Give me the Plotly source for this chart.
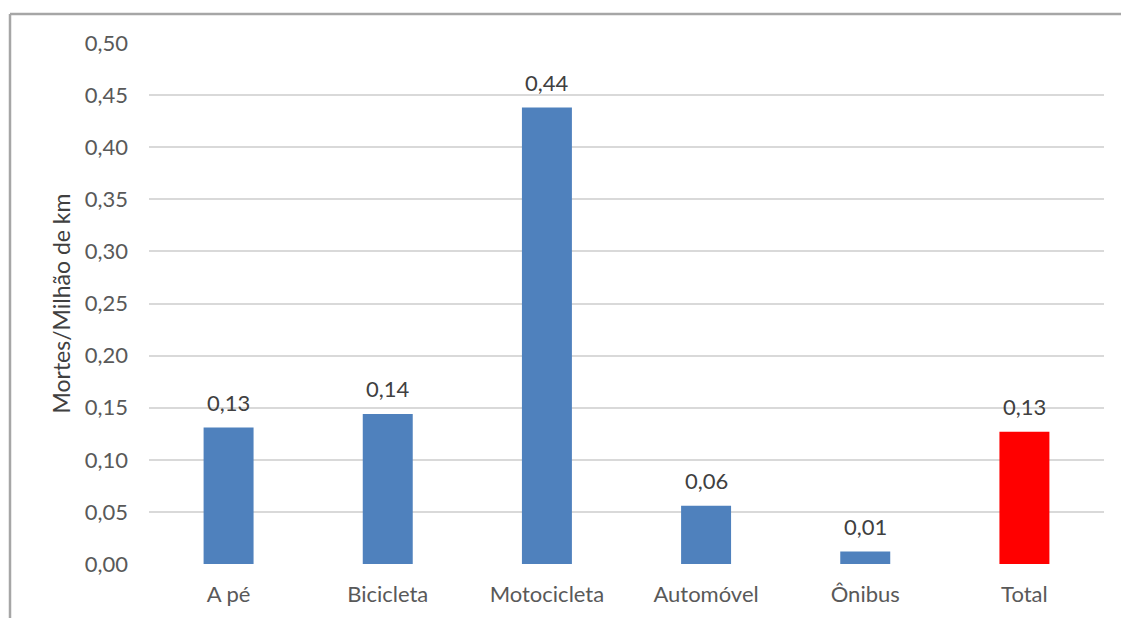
import plotly.graph_objects as go

# Deaths per million km travelled, by mode of transport
categories = ["A pé", "Bicicleta", "Motocicleta", "Automóvel", "Ônibus", "Total"]
deaths_per_mkm = [0.131, 0.144, 0.438, 0.056, 0.012, 0.127]
bar_colors = ["#4f81bd", "#4f81bd", "#4f81bd", "#4f81bd", "#4f81bd", "#ff0000"]
y_ticks = [0.00, 0.05, 0.10, 0.15, 0.20, 0.25, 0.30, 0.35, 0.40, 0.45, 0.50]
y_title = "Mortes/Milhão de km"

W, H = 1121, 618
L, R, T, B = 149, 17, 43, 54
plot_w = W - L - R
plot_h = H - T - B

FONT = "Lato"
FS = 22
fig = go.Figure()
fig.add_trace(go.Bar(
    x=categories,
    y=deaths_per_mkm,
    marker=dict(color=bar_colors, line=dict(width=0)),
    hoverinfo="x+y",
))

# value labels above each bar
for cat, val in zip(categories, deaths_per_mkm):
    fig.add_annotation(
        x=cat, y=val, xref="x", yref="y",
        text=f"{val:.2f}".replace(".", ","),
        showarrow=False, yanchor="middle", yshift=25,
        font=dict(family=FONT, size=FS, color="#404040"),
    )

# y axis title
fig.add_annotation(
    x=(60 - L) / plot_w, y=0.5, xref="paper", yref="paper",
    text=y_title, textangle=-90, showarrow=False,
    xanchor="center", yanchor="middle",
    font=dict(family=FONT, size=23, color="#404040"),
)

# chart frame (top and left edges)
fx = (10 - L) / plot_w
fy = 1 + (T - 14) / plot_h
fig.add_shape(type="line", xref="paper", yref="paper",
              x0=fx, x1=(W + 5 - L) / plot_w, y0=fy, y1=fy,
              line=dict(color="#a6a6a6", width=2.5))
fig.add_shape(type="line", xref="paper", yref="paper",
              x0=fx, x1=fx, y0=fy, y1=-(B + 5) / plot_h,
              line=dict(color="#a6a6a6", width=2.5))

fig.update_layout(
    width=W, height=H,
    margin=dict(l=L, r=R, t=T, b=B, pad=0),
    paper_bgcolor="white", plot_bgcolor="white",
    separators=",.",
    bargap=0.686,
    showlegend=False,
    font=dict(family=FONT, size=FS, color="#595959"),
)
fig.update_xaxes(
    showgrid=False, showline=False, zeroline=False,
    ticks="", ticklabelstandoff=15,
    tickfont=dict(family=FONT, size=FS, color="#595959"),
)
fig.update_yaxes(
    range=[0, 0.5], tickvals=y_ticks, tickformat=".2f",
    showgrid=True, gridcolor="#d9d9d9", gridwidth=1.5,
    zeroline=False, showline=False, ticks="", ticklabelstandoff=20,
    tickfont=dict(family=FONT, size=FS, color="#595959"),
)

fig.write_html("out.html")
